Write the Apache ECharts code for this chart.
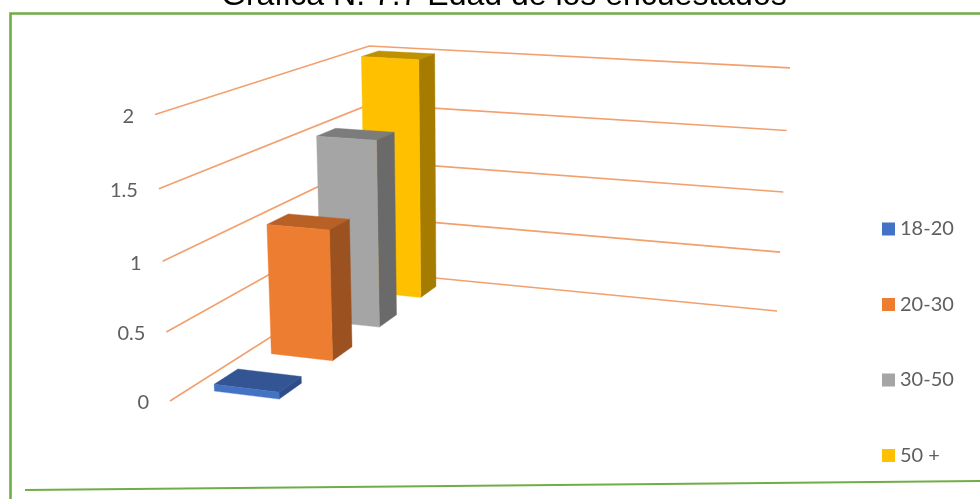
<!DOCTYPE html>
<html>
<head>
<meta charset="utf-8">
<style>html,body{margin:0;padding:0;background:#fff}#chart{width:980px;height:499px}</style>
<script src="https://cdn.jsdelivr.net/npm/echarts@6/dist/echarts.min.js"></script>
</head>
<body>
<div id="chart"></div>
<script>
const titleText = 'Gráfica N. 7.7 Edad de los encuestados';
const seriesNames = ['18-20', '20-30', '30-50', '50 +'];
const seriesValues = [0.05, 1, 1.5, 2];
const tickValues = [0, 0.5, 1, 1.5, 2];
const tickLabels = ['0', '0.5', '1', '1.5', '2'];
const categories = ['Edad'];
const frontColors = ['#4472C4', '#ED7D31', '#A5A5A5', '#FFC000'];
const topColors = ['#335593', '#B86026', '#7C7C7C', '#BF9000'];
const sideColors = ['#2D4E88', '#9B5220', '#6A6A6A', '#A67C00'];

const FONT = 'Lato, "Open Sans", sans-serif';
const VALUE_MAX = 2;

// Perspective camera: depth u (1 = front of the left wall, 0 = back corner),
// width v (0 = back corner, 1 = right end of the right wall), height h (0..1).
function project(u, v, h) {
  const w = 1 - 0.22 * u - 0.074 * v - 0.03734 * h;
  return [
    (373 - 240.4 * u + 346.5 * v - 17.5 * h) / w,
    (272 + 40.8 * u + 16 * v - 227.7 * h) / w
  ];
}
function heightOf(api, value) {
  const y0 = api.coord([0, 0])[1];
  const yMax = api.coord([0, VALUE_MAX])[1];
  return (y0 - api.coord([0, value])[1]) / (y0 - yMax);
}

function wallItem(params, api) {
  const value = api.value(1);
  const h = heightOf(api, value);
  const left = project(1, 0, h), corner = project(0, 0, h), right = project(0, 1, h);
  return {
    type: 'group',
    children: [
      { type: 'polyline', shape: { points: [left, corner, right] },
        style: { stroke: '#F2A06E', lineWidth: 1.6, fill: null } },
      { type: 'text', x: left[0] - 21, y: left[1] + 2,
        style: { text: tickLabels[params.dataIndex], align: 'right', verticalAlign: 'middle',
                 font: '20px ' + FONT, fill: '#5F5F5F' } }
    ]
  };
}

function barRenderer(idx) {
  const uFront = 0.17 + 0.25 * (3 - idx), uBack = uFront - 0.1;
  const v0 = 0.053, v1 = 0.193;
  return function (params, api) {
    const h = heightOf(api, api.value(1));
    const fbl = project(uFront, v0, 0), fbr = project(uFront, v1, 0);
    const ftl = project(uFront, v0, h), ftr = project(uFront, v1, h);
    const bbr = project(uBack, v1, 0), btr = project(uBack, v1, h), btl = project(uBack, v0, h);
    const poly = (pts, fill) => ({ type: 'polygon', shape: { points: pts }, style: { fill: fill, stroke: fill, lineWidth: 0.4 } });
    return {
      type: 'group',
      children: [
        poly([ftl, ftr, btr, btl], topColors[idx]),
        poly([ftr, fbr, bbr, btr], sideColors[idx]),
        poly([ftl, ftr, fbr, fbl], frontColors[idx])
      ]
    };
  };
}

// Painter's order: the deepest bar (last series) is drawn first.
const barSeries = seriesNames.map((name, idx) => ({
  type: 'custom',
  name: name,
  coordinateSystem: 'cartesian2d',
  encode: { x: 0, y: 1 },
  clip: false,
  silent: true,
  z: 10 - idx,
  itemStyle: { color: frontColors[idx] },
  renderItem: barRenderer(idx),
  data: [[0, seriesValues[idx]]]
}));

const chart = echarts.init(document.getElementById('chart'), null, { renderer: 'canvas' });
chart.setOption({
  animation: false,
  backgroundColor: '#ffffff',
  title: {
    text: titleText,
    left: 216,
    top: -25,
    textStyle: { fontFamily: '"Liberation Sans", Arial, sans-serif', fontSize: 32, fontWeight: 'normal', color: '#000000' }
  },
  grid: { left: 100, right: 200, top: 50, bottom: 100 },
  xAxis: { type: 'category', data: categories, show: false },
  yAxis: { type: 'value', min: 0, max: VALUE_MAX, show: false },
  legend: {
    data: seriesNames,
    orient: 'vertical',
    left: 877,
    top: 214,
    icon: 'rect',
    itemWidth: 13,
    itemHeight: 13,
    itemGap: 55.5,
    selectedMode: false,
    textStyle: { fontFamily: FONT, fontSize: 20, color: '#5F5F5F', lineHeight: 20 }
  },
  graphic: [
    { type: 'polyline', silent: true, z: 0, shape: { points: [[980, 13.5], [10.5, 13.5], [10.5, 499]] },
      style: { stroke: '#70AD47', lineWidth: 2.6, fill: null } },
    { type: 'line', silent: true, z: 0, shape: { x1: 25, y1: 490, x2: 980, y2: 481 },
      style: { stroke: '#70AD47', lineWidth: 2 } }
  ],
  series: [{
    type: 'custom',
    name: 'walls',
    coordinateSystem: 'cartesian2d',
    encode: { x: 0, y: 1 },
    clip: false,
    silent: true,
    z: 1,
    renderItem: wallItem,
    data: tickValues.map(t => [0, t])
  }].concat(barSeries)
});
</script>
</body>
</html>
